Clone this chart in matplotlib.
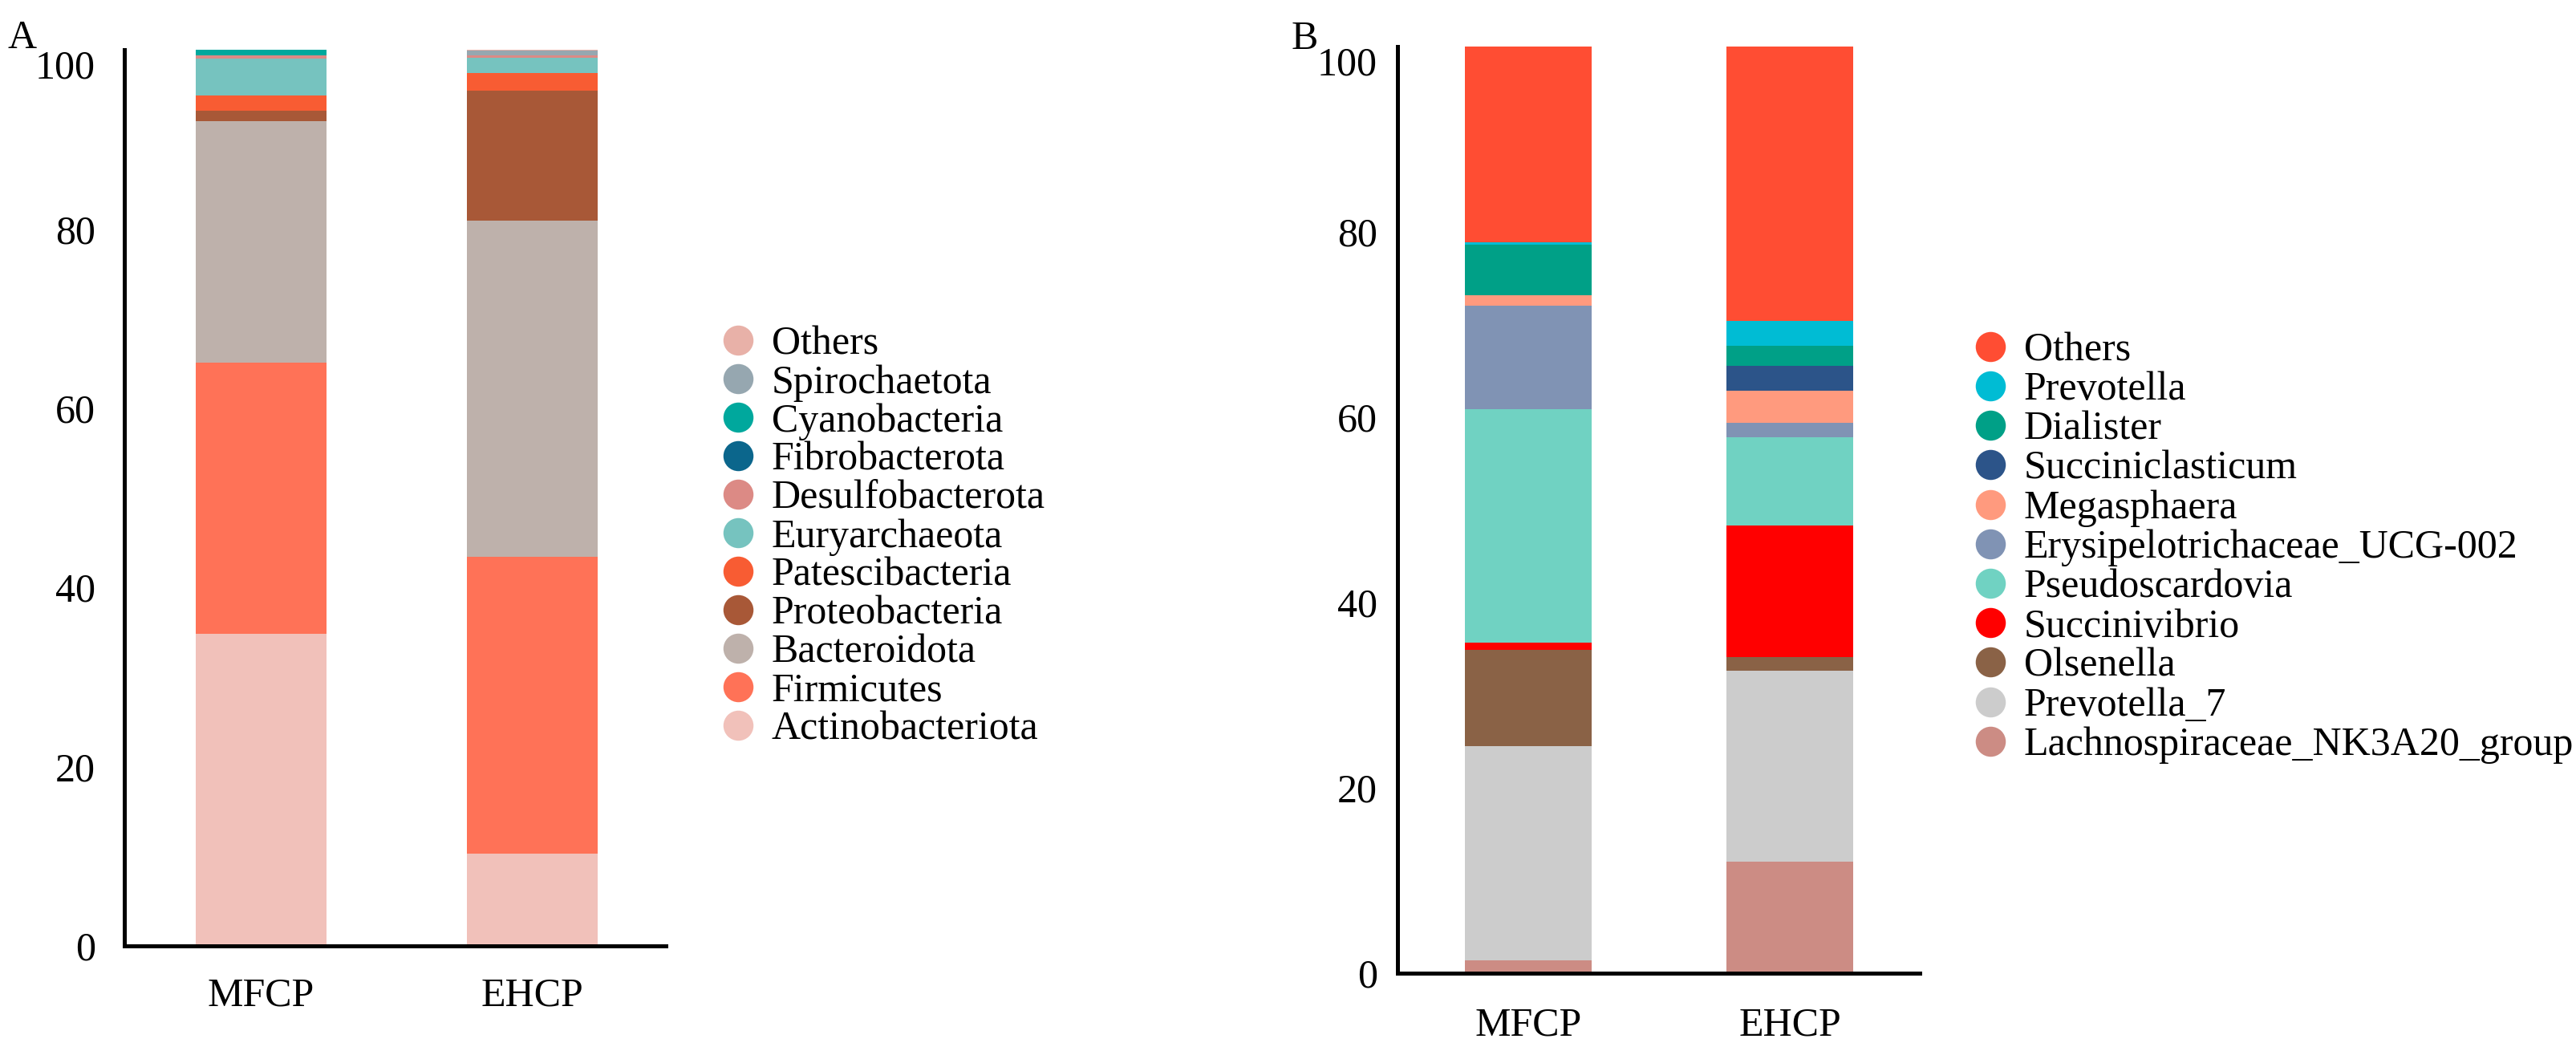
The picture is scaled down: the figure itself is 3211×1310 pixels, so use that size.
import numpy as np
import matplotlib
matplotlib.use("Agg")
import matplotlib.pyplot as plt
from matplotlib.lines import Line2D

plt.rcParams['font.family'] = ['Liberation Serif', 'DejaVu Serif']

groups = ["MFCP", "EHCP"]

# panel A, phylum level, listed bottom -> top of the stack
phyla = ["Actinobacteriota", "Firmicutes", "Bacteroidota", "Proteobacteria",
         "Patescibacteria", "Euryarchaeota", "Desulfobacterota", "Fibrobacterota",
         "Cyanobacteria", "Spirochaetota", "Others"]
phylum_mfcp = [34.8, 30.3, 26.9, 1.2, 1.7, 4.1, 0.4, 0.0, 0.6, 0.0, 0.0]
phylum_ehcp = [10.3, 33.1, 37.5, 14.5, 2.0, 1.7, 0.3, 0.0, 0.0, 0.5, 0.1]
phylum_colors = ["#F1C1BA", "#FF7257", "#BEB1AB", "#A85837", "#F85C33", "#76C3BF",
                 "#DC8A85", "#0B668C", "#00A89D", "#96A7B0", "#E8B1A8"]

# panel B, genus level, listed bottom -> top of the stack
genera = ["Lachnospiraceae_NK3A20_group", "Prevotella_7", "Olsenella", "Succinivibrio",
          "Pseudoscardovia", "Erysipelotrichaceae_UCG-002", "Megasphaera",
          "Succiniclasticum", "Dialister", "Prevotella", "Others"]
genus_mfcp = [1.4, 23.1, 10.4, 0.8, 25.2, 11.1, 1.2, 0.0, 5.4, 0.3, 21.1]
genus_ehcp = [12.0, 20.6, 1.5, 14.2, 9.5, 1.6, 3.5, 2.6, 2.2, 2.7, 29.6]
genus_colors = ["#CC8C84", "#CCCCCC", "#8A6246", "#FF0000", "#70D2C2", "#8093B4",
                "#FF9A7E", "#2C5489", "#00A087", "#00BCD4", "#FF4D33"]

W, H = 3211, 1310
fig = plt.figure(figsize=(W / 100, H / 100), dpi=100)

FS = 36


def stacked(ax, names, mfcp, ehcp, colors, width, ypad, xpad):
    x = np.arange(len(groups))
    bottom = np.zeros(len(groups))
    for name, a, b, c in zip(names, mfcp, ehcp, colors):
        vals = np.array([a, b])
        ax.bar(x, vals, width, bottom=bottom, color=c, linewidth=0, label=name)
        bottom += vals
    ax.set_ylim(0, 100)
    ax.set_yticks([0, 20, 40, 60, 80, 100])
    ax.set_xticks(x)
    ax.set_xticklabels(groups)
    for s in ["top", "right"]:
        ax.spines[s].set_visible(False)
    for s in ["left", "bottom"]:
        ax.spines[s].set_linewidth(3.6)
        ax.spines[s].set_capstyle("projecting")
    ax.tick_params(axis="y", length=0, pad=ypad, labelsize=FS)
    ax.tick_params(axis="x", length=0, pad=xpad, labelsize=FS)
    # the top label sits just under the end of the axis, as in the original
    ax.get_yticklabels()[-1].set_verticalalignment("top")


def legend(names, colors, x, y, spacing):
    handles = [Line2D([], [], linestyle="none", marker="o", markersize=27,
                      markerfacecolor=c, markeredgewidth=0) for c in colors]
    fig.legend(handles[::-1], names[::-1], loc="center left",
               bbox_to_anchor=(x / W, 1 - y / H), frameon=False, fontsize=FS,
               handlelength=1.0, handletextpad=0.34, labelspacing=spacing,
               borderpad=0, borderaxespad=0)


axA = fig.add_axes([155 / W, 1 - 1179 / H, 675 / W, 1117 / H])
stacked(axA, phyla, phylum_mfcp, phylum_ehcp, phylum_colors, 0.484, 26, 28)
axA.set_xlim(-0.505, 1.493)
legend(phyla, phylum_colors, 895, 669.5, 0.03)

axB = fig.add_axes([1742 / W, 1 - 1213 / H, 651 / W, 1155 / H])
stacked(axB, genera, genus_mfcp, genus_ehcp, genus_colors, 0.485, 18, 30)
axB.set_xlim(-0.5, 1.497)
legend(genera, genus_colors, 2456, 683, 0.054)

fig.text(10 / W, 1 - 60 / H, "A", fontsize=FS, va="baseline")
fig.text(1610 / W, 1 - 61 / H, "B", fontsize=FS, va="baseline")

fig.savefig("out.png", dpi=100, facecolor="white")
